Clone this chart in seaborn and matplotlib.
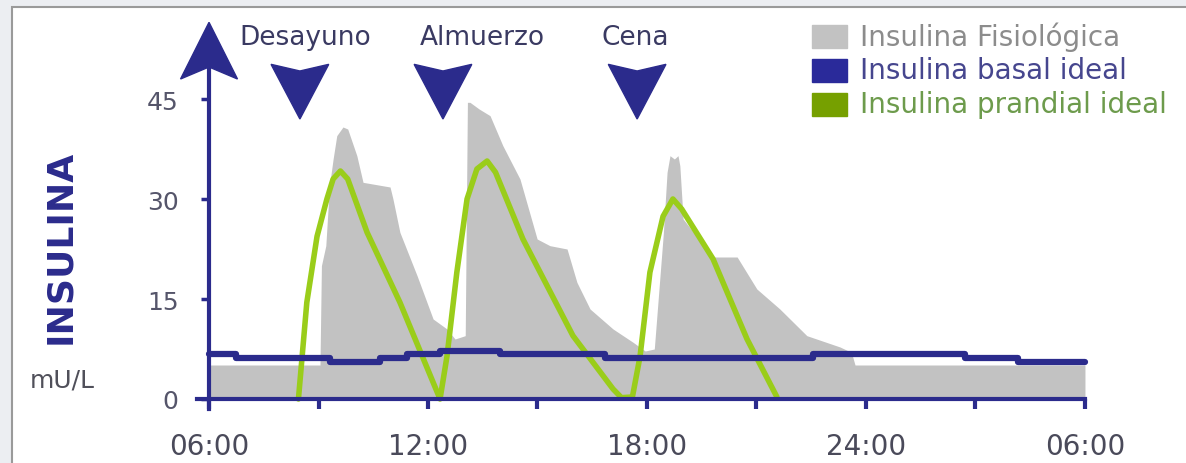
import seaborn as sns
import pandas as pd
import matplotlib
matplotlib.use('Agg')
import matplotlib.pyplot as plt
from matplotlib.patches import Polygon, Rectangle

# insulina fisiologica (gris)
fis_h = [6.0, 9.04, 9.08, 9.2, 9.3, 9.4, 9.5, 9.67, 9.8, 10.05, 10.22, 10.96, 11.04, 11.23,
         11.70, 12.14, 12.52, 12.74, 13.02, 13.08, 13.15, 13.4, 13.70, 14.05, 14.52, 14.99,
         15.34, 15.81, 16.08, 16.44, 17.07, 17.62, 17.95, 18.2, 18.45, 18.55, 18.63, 18.75,
         18.85, 18.9, 18.99, 19.81, 20.47, 21.01, 21.64, 22.38, 23.29, 23.6, 23.7, 30.0]
fis_v = [5.1, 5.1, 20, 23, 32, 36, 39.5, 40.8, 40.5, 36.5, 32.5, 31.8, 30, 25,
         18.5, 12, 10.5, 9, 9.5, 44.5, 44.5, 43.5, 42.5, 38, 33, 24,
         23, 22.5, 17.5, 13.5, 10.5, 8.5, 7.2, 7.5, 25, 34, 36.5, 36,
         36.5, 35, 27, 21.3, 21.3, 16.5, 13.5, 9.5, 7.8, 7, 5.1, 5.1]

# insulina basal ideal (escalones)
bas_h = [6.0, 6.74, 9.32, 10.68, 11.42, 12.33, 13.97, 16.85, 22.55, 26.71, 28.16, 30.0]
bas_v = [6.7, 6.1, 5.5, 6.1, 6.7, 7.2, 6.7, 6.1, 6.7, 6.1, 5.5, 5.5]

# insulina prandial ideal
pra_h = [8.45, 8.68, 8.96, 9.23, 9.40, 9.60, 9.80, 10.33, 11.23, 12.14, 12.33, 12.52, 12.79,
         13.07, 13.34, 13.62, 13.85, 14.60, 15.97, 17.07, 17.3, 17.6, 17.81, 18.08, 18.44,
         18.71, 18.95, 19.81, 20.74, 21.56]
pra_v = [0, 14.5, 24.4, 30, 33, 34.2, 33, 25, 14.5, 2.5, 0, 6.4, 19,
         30, 34.5, 35.7, 34, 24, 9.5, 1.5, 0.2, 0.3, 6.4, 19, 27.4,
         30, 28.5, 21, 9, 0.3]

comidas = ['Desayuno', 'Almuerzo', 'Cena']
comidas_h = [8.49, 12.41, 17.73]
comidas_txt_h = [8.63, 13.48, 17.67]

xticks = [6, 12, 18, 24, 30]
xlabels = ['06:00', '12:00', '18:00', '24:00', '06:00']
xminor = [9, 15, 21, 27]
yticks = [0, 15, 30, 45]

navy = '#2b2b8c'
verde = '#9acd1a'
gris = '#c2c2c2'

sns.set_theme(style='white')
plt.rcParams['font.family'] = ['DejaVu Sans']

W, H = 1186, 464
fig = plt.figure(figsize=(W / 100, H / 100), dpi=100)
fig.patch.set_facecolor('#eceef2')


def px(x, y):
    return (x / W, 1 - y / H)


fig.patches.append(Rectangle(px(12, 470), (W + 20) / W, 462 / H, transform=fig.transFigure,
                             facecolor='white', edgecolor='#9a9a9a', lw=1.5, zorder=-5))

ax = fig.add_axes([180 / W, 44 / H, 940 / W, 400 / H])
ax.set_zorder(2)
ax.patch.set_alpha(0)
ax.set_xlim(5.205, 30.96)
ax.set_ylim(-3.0, 57.0)

ax.fill_between(fis_h, 0, fis_v, color=gris, lw=0, zorder=1)

df_p = pd.DataFrame({'h': pra_h, 'v': pra_v})
sns.lineplot(data=df_p, x='h', y='v', ax=ax, color=verde, lw=4, sort=False,
             estimator=None, solid_joinstyle='round', solid_capstyle='round', zorder=2)
df_b = pd.DataFrame({'h': bas_h, 'v': bas_v})
sns.lineplot(data=df_b, x='h', y='v', ax=ax, color=navy, lw=4.5, sort=False,
             estimator=None, drawstyle='steps-post', zorder=3)

# ejes
for s in ['top', 'right']:
    ax.spines[s].set_visible(False)
ax.spines['left'].set_position(('data', 6))
ax.spines['bottom'].set_position(('data', 0))
ax.spines['left'].set_bounds(-1.5, 49.5)
ax.spines['bottom'].set_bounds(5.67, 30)
for s in ['left', 'bottom']:
    ax.spines[s].set_color(navy)
    ax.spines[s].set_linewidth(3)
    ax.spines[s].set_zorder(4)

ax.add_patch(Polygon([(6.0, 56.5), (6.78, 48.0), (6.0, 49.8), (5.22, 48.0)],
                     closed=True, color=navy, zorder=5, clip_on=False))

ax.set_xticks(xticks)
ax.set_xticklabels(xlabels)
ax.set_xticks(xminor, minor=True)
ax.set_yticks(yticks)
ax.tick_params(axis='x', which='both', direction='out', length=7, width=3, color=navy,
               labelsize=20, labelcolor='#4a4a5a', pad=17, bottom=True)
ax.tick_params(axis='y', direction='out', length=6, width=2.5, color=navy,
               labelsize=18, labelcolor='#55556a', pad=16, left=True)
ax.set_xlabel('')
ax.set_ylabel('')

# flechas de comidas
for nombre, h, th in zip(comidas, comidas_h, comidas_txt_h):
    ax.add_patch(Polygon([(h - 0.79, 50.2), (h, 49.2), (h + 0.79, 50.2), (h, 42.0)],
                         closed=True, color=navy, zorder=5, clip_on=False))
    ax.text(th, 54.3, nombre, ha='center', va='center', fontsize=19, color='#3a3a62')

fig.text(*px(60, 247), 'INSULINA', rotation=90, ha='center', va='center',
         fontsize=26, fontweight='bold', color=navy)
fig.text(*px(62, 381), 'mU/L', ha='center', va='center', fontsize=18, color='#50505a')

# leyenda
ley_txt = ['Insulina Fisiológica', 'Insulina basal ideal', 'Insulina prandial ideal']
ley_col = [gris, '#2a2a9a', '#76a000']
ley_tc = ['#8c8c8c', '#46468e', '#6d9b4c']
for i, (t, c, tc) in enumerate(zip(ley_txt, ley_col, ley_tc)):
    yc = 37 + i * 34
    fig.patches.append(Rectangle(px(812, yc + 11.5), 35 / W, 23 / H,
                                 transform=fig.transFigure, color=c, zorder=3))
    fig.text(*px(860, yc), t, ha='left', va='center', fontsize=20, color=tc)

fig.savefig('out.png', dpi=100, facecolor=fig.get_facecolor())
